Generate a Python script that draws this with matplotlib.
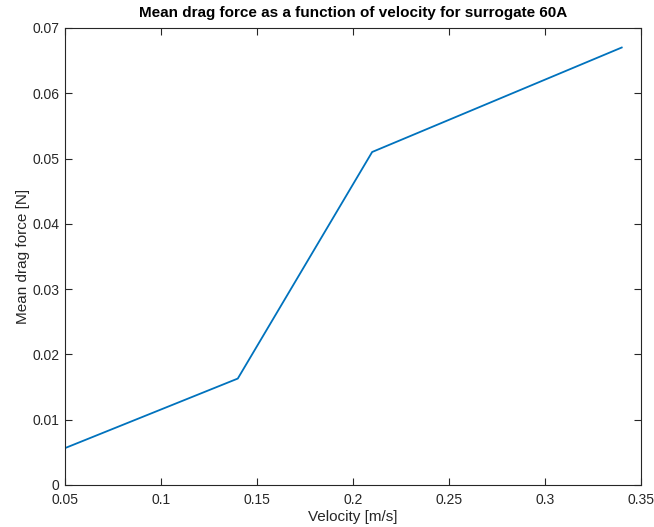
import matplotlib
matplotlib.use("Agg")
import matplotlib.pyplot as plt

# Mean drag force measurements for surrogate 60A
velocity = [0.05, 0.14, 0.21, 0.34]
drag_force = [0.00565, 0.0163, 0.0510, 0.0670]

x_ticks = [0.05, 0.1, 0.15, 0.2, 0.25, 0.3, 0.35]
x_tick_labels = ["0.05", "0.1", "0.15", "0.2", "0.25", "0.3", "0.35"]
y_ticks = [0, 0.01, 0.02, 0.03, 0.04, 0.05, 0.06, 0.07]
y_tick_labels = ["0", "0.01", "0.02", "0.03", "0.04", "0.05", "0.06", "0.07"]

plt.rcParams["font.family"] = ["Liberation Sans", "DejaVu Sans"]
axis_color = "#262626"

fig = plt.figure(figsize=(6.54, 5.27), dpi=100)
ax = fig.add_axes([0.0994, 0.0797, 0.8806, 0.8673])

ax.plot(velocity, drag_force, color="#0072BD", linewidth=1.3)

ax.set_xlim(0.05, 0.35)
ax.set_ylim(0, 0.07)
ax.set_xticks(x_ticks)
ax.set_xticklabels(x_tick_labels)
ax.set_yticks(y_ticks)
ax.set_yticklabels(y_tick_labels)

ax.tick_params(direction="in", length=5, width=0.8, colors=axis_color,
               labelsize=10, top=True, right=True)
ax.tick_params(axis="x", pad=6)
ax.tick_params(axis="y", pad=4)
for spine in ax.spines.values():
    spine.set_color(axis_color)
    spine.set_linewidth(0.8)

ax.set_xlabel("Velocity [m/s]", fontsize=11, color=axis_color, labelpad=2)
ax.set_ylabel("Mean drag force [N]", fontsize=11, color=axis_color, labelpad=2)
ax.set_title("Mean drag force as a function of velocity for surrogate 60A",
             fontsize=11, fontweight="bold", color="black", pad=8)

fig.savefig("out.png", dpi=100)
